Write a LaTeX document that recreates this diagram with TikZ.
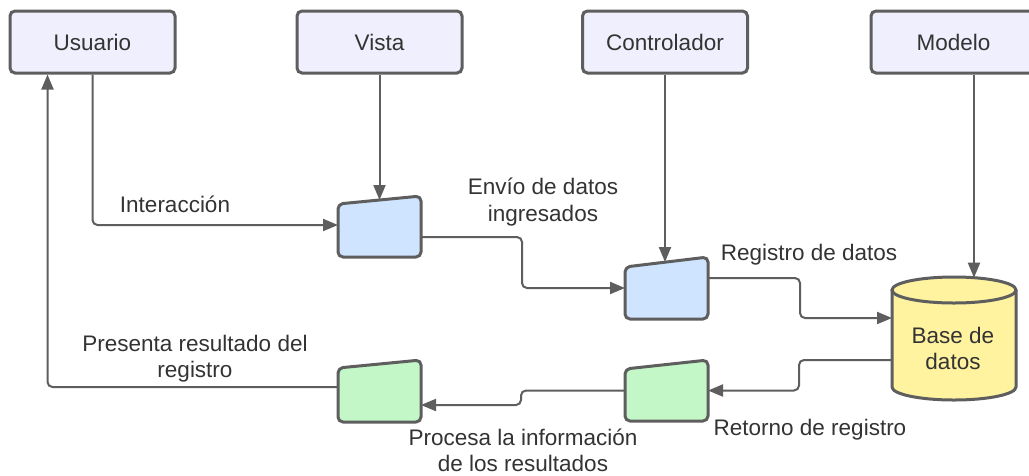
\documentclass[tikz,border=0pt]{standalone}
\usepackage{fontspec}
\setmainfont{Liberation Sans}
\usetikzlibrary{arrows.meta,fit}

\definecolor{edge}{HTML}{5E5E5E}
\definecolor{ink}{HTML}{333333}
\definecolor{actorfill}{HTML}{EFEFFD}
\definecolor{viewfill}{HTML}{CFE4FF}
\definecolor{resultfill}{HTML}{C3F7C8}
\definecolor{dbfill}{HTML}{FFF3A0}

\tikzset{
  lbl/.style={text=ink, align=center, inner sep=0pt,
    font=\fontsize{22.5}{26.5}\selectfont},
  actor/.style={lbl, draw=edge, fill=actorfill, line width=3pt,
    rounded corners=5pt, minimum width=165pt, minimum height=62pt},
  shapeline/.style={draw=edge, line width=3pt, rounded corners=5pt, line join=round},
  conn/.style={draw=edge, line width=2pt, rounded corners=5pt,
    -{Triangle[length=15pt,width=12pt]}},
}

% manual-input shape: name, left x, right x, top-left y, top-right y, bottom y, fill
\newcommand\inputshape[7]{%
  \path[shapeline, fill=#7] (#2,#4) -- (#3,#5) -- (#3,#6) -- (#2,#6) -- cycle;
  \node[fit={(#2,#5) (#3,#6)}, inner sep=0pt, outer sep=0pt] (#1) {};
}

\begin{document}
\begin{tikzpicture}[x=1pt,y=-1pt]
\useasboundingbox (0,0) rectangle (1029,475);
\clip (0,0) rectangle (1029,475);
\fill[white] (0,0) rectangle (1029,475);

% participants
\node[actor] (usuario) at (92.5,42) {Usuario};
\node[actor] (vista) at (379.5,42) {Vista};
\node[actor] (controlador) at (665,42) {Controlador};
\node[actor] (modelo) at (953.5,42) {Modelo};

% data entry steps
\inputshape{p1}{338}{421}{204}{196}{257}{viewfill}
\inputshape{p2}{625}{708}{267}{257}{319}{viewfill}
\inputshape{g1}{338}{421}{368}{360}{422}{resultfill}
\inputshape{g2}{625}{708}{369}{360}{421}{resultfill}

% database
\path[fill=dbfill] (892,290) -- (892,387)
  arc[start angle=180,end angle=0,x radius=62,y radius=13] -- (1016,290)
  arc[start angle=0,end angle=-180,x radius=62,y radius=13] -- cycle;
\draw[edge, line width=3pt, line join=round] (892,290) -- (892,387)
  arc[start angle=180,end angle=0,x radius=62,y radius=13] -- (1016,290);
\draw[edge, line width=3pt] (954,290) ellipse [x radius=62,y radius=13];
\node[fit={(892,277) (1016,400)}, inner sep=0pt, outer sep=0pt] (db) {};
\node[lbl] (dbtext) at (953,348.5) {Base de\\datos};

% entry points on slanted tops
\coordinate (p1top) at (379.5,200);
\coordinate (p2top) at (665,262);
\coordinate (dbtop) at (974,277.7);

% connectors
\draw[conn] (usuario.south) |- ([yshift=1.5pt]p1.west);
\draw[conn] (vista.south) -- (p1top);
\draw[conn] ([yshift=-10.5pt]p1.east) -- ++(101,0) |- (p2.west);
\draw[conn] (controlador.south) -- (p2top);
\draw[conn] ([yshift=10pt]p2.east) -- ++(92,0) |- ([yshift=20.5pt]db.west);
\draw[conn] ([xshift=20.5pt]modelo.south) -- (dbtop);
\draw[conn] ([yshift=-21.5pt]db.west) -- ++(-93,0) |- (g2.east);
\draw[conn] (g2.west) -- ++(-104,0) |- ([yshift=-14pt]g1.east);
\draw[conn] ([yshift=4pt]g1.west) -| ([xshift=-45pt]usuario.south);

% labels
\node[lbl] (l-inter) at (175,204) {Interacción};
\node[lbl] (l-envio) at (543,202) {Envío de datos\\ingresados};
\node[lbl] (l-reg) at (809,255) {Registro de datos};
\node[lbl] (l-ret) at (810,430) {Retorno de registro};
\node[lbl] (l-proc) at (523,450.5) {Procesa la información\\de los resultados};
\node[lbl] (l-pres) at (195,358.5) {Presenta resultado del\\registro};
\end{tikzpicture}
\end{document}
